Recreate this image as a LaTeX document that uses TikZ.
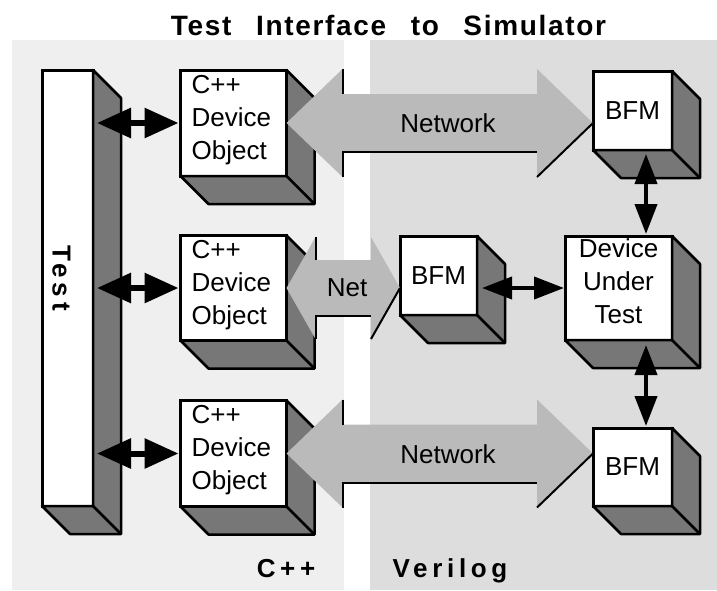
\documentclass[tikz,border=0pt]{standalone}
\usepackage{fontspec}
\setmainfont{Liberation Sans}
\newfontfamily\headfont{Liberation Sans}[LetterSpace=6,WordSpace=2.6]
\newfontfamily\tagfont{Liberation Sans}[LetterSpace=18]
\usetikzlibrary{arrows.meta,calc}

\definecolor{leftbg}{gray}{0.937}
\definecolor{rightbg}{gray}{0.868}
\definecolor{facegray}{gray}{0.467}
\definecolor{arrowgray}{gray}{0.73}

\tikzset{
  front/.style={draw=black, line width=3pt, fill=white, outer sep=0pt, inner sep=0pt,
                font=\fontsize{26}{33}\selectfont},
  face/.style={draw=black, line width=2.5pt, fill=facegray, line join=round},
  rim/.style={draw=black, line width=2pt},
  lbl/.style={font=\fontsize{26}{33}\selectfont, inner sep=0pt},
  tag/.style={font=\tagfont\bfseries\fontsize{26}{30}\selectfont, inner sep=0pt},
  dbl/.style={line width=6pt, {Triangle[length=34pt,width=29pt]}-{Triangle[length=34pt,width=29pt]}},
  dblthin/.style={line width=4pt, {Triangle[length=30pt,width=22pt]}-{Triangle[length=30pt,width=22pt]}},
}

% right and bottom faces of an extruded box node
\newcommand\extrude[1]{%
  \filldraw[face] (#1.north east) -- ++(28,28) -- ($(#1.south east)+(28,28)$)
     -- ($(#1.south west)+(28,28)$) -- (#1.south west) -- (#1.south east) -- cycle;
  \draw[face, fill=none] (#1.south east) -- ++(28,28);
}

% double-headed block arrow: left tip, right tip, head length, head half height, shaft half height
\newcommand\blockarrow[5]{%
  \fill[arrowgray] (#1) -- ++(#3,-#4) -- ++(0,#4-#5) -- ($(#2)+(-#3,-#5)$) -- ++(0,#5-#4)
     -- (#2) -- ++(-#3,#4) -- ++(0,#5-#4) -- ($(#1)+(#3,#5)$) -- ++(0,#4-#5) -- cycle;
  \draw[rim] ($(#1)+(#3,-#4)$) -- ++(0,#4-#5);
  \draw[rim] ($(#1)+(#3,#4)$) -- ($(#1)+(#3,#5)$) -- ($(#2)+(-#3,#5)$);
  \draw[rim] (#2) -- ++(-#3,#4);
}

\begin{document}
\begin{tikzpicture}[x=1pt, y=-1pt]
\useasboundingbox (0,0) rectangle (717,590);

% the two halves: C++ side and Verilog side
\fill[leftbg] (12,40) rectangle (344,590);
\fill[rightbg] (370,40) rectangle (717,590);

% boxes
\node[front, minimum width=51, minimum height=436] (test) at (67.5,288) {};
\node[front, minimum width=106, minimum height=106] (dev1) at (233.5,123) {};
\node[front, minimum width=106, minimum height=105] (dev2) at (233.5,288) {};
\node[front, minimum width=106, minimum height=106] (dev3) at (233.5,453.5) {};
\node[front, minimum width=79, minimum height=79] (bfm1) at (632.5,110.5) {BFM};
\node[front, minimum width=77, minimum height=79] (bfm2) at (438.5,275.5) {BFM};
\node[front, minimum width=79, minimum height=78] (bfm3) at (632.5,467) {BFM};
\node[front, minimum width=107, minimum height=104] (dut) at (618.5,288) {};

\foreach \b in {test,dev1,dev2,dev3,bfm1,bfm2,bfm3,dut} {\extrude{\b}}

% block arrows between device objects and BFMs
\coordinate (r1) at (bfm1.west |- dev1.east);
\coordinate (r2) at (bfm2.west |- dev2.east);
\coordinate (r3) at (bfm3.west |- dev3.east);
\blockarrow{dev1.east}{r1}{56}{54}{29}
\blockarrow{dev2.east}{r2}{29}{51}{28}
\blockarrow{dev3.east}{r3}{56}{54}{29}

% small double arrows
\draw[dbl, shorten <=4pt, shorten >=2pt] (test.east |- dev1.west) -- (dev1.west);
\draw[dbl, shorten <=4pt, shorten >=2pt] (test.east |- dev2.west) -- (dev2.west);
\draw[dbl, shorten <=4pt, shorten >=2pt] (test.east |- dev3.west) -- (dev3.west);
\draw[dblthin, shorten <=5pt, shorten >=1pt] (bfm2.east |- dut.west) -- (dut.west);
\coordinate (vx) at (646,0);
\draw[dblthin, shorten <=4pt, shorten >=2pt] (bfm1.south -| vx) -- (dut.north -| vx);
\draw[dblthin, shorten <=5pt, shorten >=2pt] (dut.south -| vx) -- (bfm3.north -| vx);

% box texts
\node[lbl, align=left, anchor=north west] (dev1t) at ($(dev1.north west)+(11,0)$) {\strut C++\\Device\\Object};
\node[lbl, align=left, anchor=north west] (dev2t) at ($(dev2.north west)+(11,0)$) {\strut C++\\Device\\Object};
\node[lbl, align=left, anchor=north west] (dev3t) at ($(dev3.north west)+(11,0)$) {\strut C++\\Device\\Object};
\node[lbl, align=center, anchor=north] (dutt) at ($(dut.north)+(0,-2)$) {\strut Device\\Under\\Test};
\node[tag, rotate=-90] (testt) at (61.5,278) {Test};

% arrow texts
\node[lbl] (net1) at (448,123) {Network};
\node[lbl] (net2) at (347,288) {Net};
\node[lbl] (net3) at (448,454) {Network};

% title and side captions
\node[inner sep=0pt, anchor=base, font=\headfont\bfseries\fontsize{28}{34}\selectfont] (title) at (388.5,35) {Test Interface to Simulator};
\node[tag, anchor=base] (cpp) at (286,577) {C++};
\node[tag, anchor=base] (vlog) at (450,577) {Verilog};
\end{tikzpicture}
\end{document}
